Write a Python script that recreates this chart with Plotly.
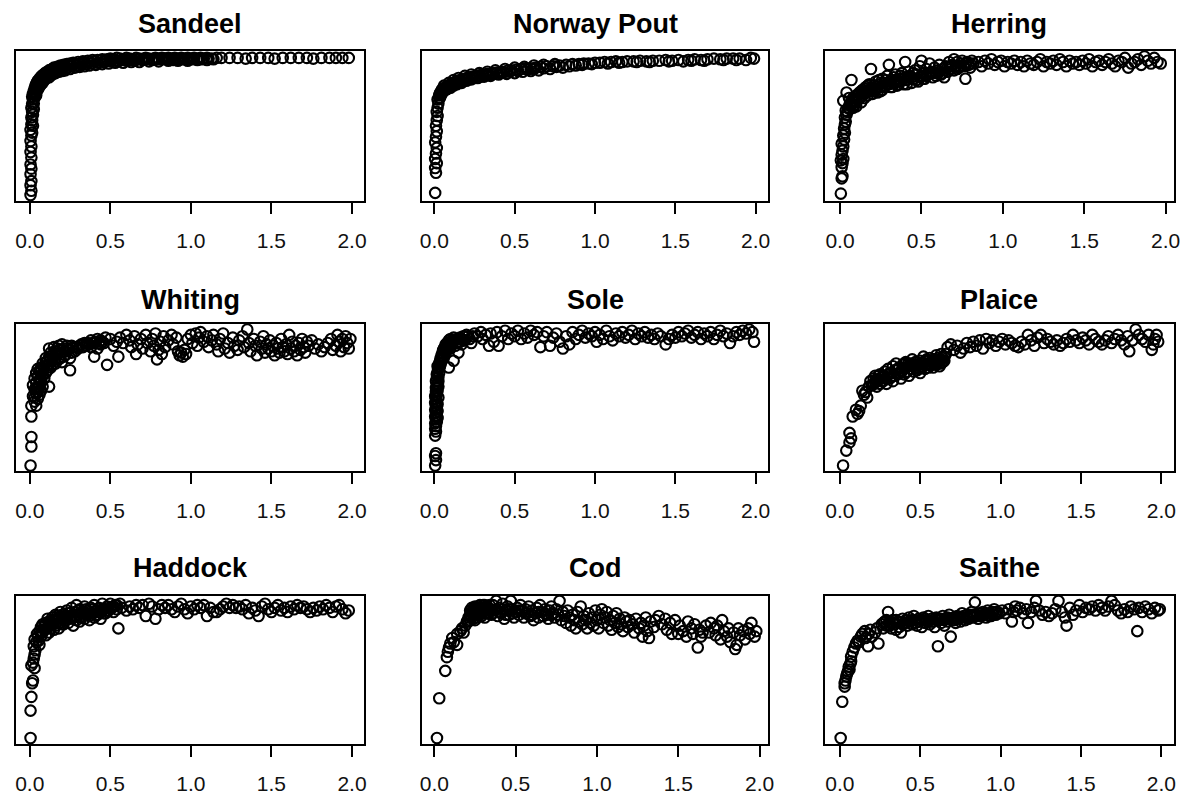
import plotly.graph_objects as go

# ---------------------------------------------------------------------------
# Relative response (0 = lowest, 1 = highest) against fishing mortality F
# ---------------------------------------------------------------------------
species = ["Sandeel", "Norway Pout", "Herring", "Whiting", "Sole", "Plaice",
           "Haddock", "Cod", "Saithe"]

x_tick_vals = [0.0, 0.5, 1.0, 1.5, 2.0]
x_tick_text = ["0.0", "0.5", "1.0", "1.5", "2.0"]

sandeel = [
    (0.005, 0.00), (0.010, 0.03), (0.005, 0.07), (0.010, 0.10), (0.005, 0.15), (0.010, 0.19), (0.005, 0.22), (0.010, 0.27),
    (0.005, 0.31), (0.010, 0.35), (0.005, 0.39), (0.010, 0.43), (0.005, 0.47), (0.010, 0.51), (0.010, 0.56), (0.015, 0.60),
    (0.010, 0.63), (0.015, 0.66), (0.020, 0.69), (0.015, 0.71), (0.020, 0.73), (0.025, 0.75),
    (0.015, 0.45), (0.020, 0.50), (0.015, 0.54), (0.020, 0.58), (0.025, 0.62), (0.025, 0.66), (0.030, 0.70), (0.030, 0.72),
    (0.03, 0.77), (0.035, 0.79), (0.04, 0.80), (0.045, 0.815), (0.05, 0.825), (0.06, 0.84), (0.07, 0.855), (0.08, 0.865),
    (0.09, 0.875), (0.10, 0.885), (0.11, 0.89), (0.12, 0.90), (0.13, 0.905), (0.14, 0.91), (0.15, 0.92), (0.17, 0.925),
    (0.19, 0.935), (0.21, 0.94), (0.23, 0.945), (0.25, 0.95), (0.27, 0.955), (0.30, 0.96), (0.33, 0.965), (0.36, 0.97),
    (0.39, 0.975), (0.42, 0.975), (0.45, 0.98), (0.48, 0.98),
    (0.03, 0.74), (0.04, 0.77), (0.05, 0.79), (0.06, 0.81), (0.07, 0.825), (0.08, 0.835), (0.10, 0.855), (0.12, 0.87),
    (0.14, 0.885), (0.16, 0.895), (0.18, 0.905), (0.20, 0.91), (0.23, 0.92), (0.26, 0.93), (0.29, 0.935), (0.32, 0.94),
    (0.35, 0.945), (0.38, 0.95), (0.42, 0.955), (0.46, 0.96), (0.50, 0.965), (0.55, 0.965), (0.60, 0.97), (0.65, 0.97),
    (0.70, 0.975), (0.76, 0.975), (0.82, 0.98), (0.90, 0.98),
    (0.04, 0.72), (0.05, 0.76), (0.06, 0.78), (0.07, 0.80), (0.08, 0.81), (0.09, 0.83), (0.10, 0.84), (0.12, 0.85),
    (0.14, 0.87), (0.16, 0.88), (0.18, 0.89), (0.20, 0.895), (0.22, 0.90), (0.25, 0.91), (0.28, 0.92), (0.31, 0.925),
    (0.34, 0.93), (0.37, 0.935), (0.41, 0.94), (0.45, 0.945), (0.49, 0.95), (0.53, 0.955), (0.58, 0.955), (0.63, 0.96),
    (0.68, 0.96), (0.74, 0.965), (0.80, 0.965), (0.86, 0.97), (0.92, 0.97), (0.98, 0.97), (1.04, 0.975), (1.10, 0.975),
    (0.035, 0.76), (0.045, 0.79), (0.055, 0.81), (0.065, 0.83), (0.075, 0.845), (0.085, 0.855), (0.095, 0.865), (0.105, 0.875),
    (0.115, 0.88), (0.125, 0.89), (0.135, 0.895), (0.145, 0.90), (0.155, 0.905), (0.165, 0.915), (0.175, 0.92), (0.185, 0.925),
    (0.195, 0.93), (0.215, 0.93), (0.235, 0.935), (0.255, 0.94), (0.275, 0.945), (0.31, 0.95), (0.34, 0.955), (0.37, 0.96),
    (0.40, 0.965), (0.44, 0.97), (0.47, 0.97), (0.51, 0.975), (0.53, 0.97), (0.57, 0.975), (0.61, 0.98), (0.63, 0.975),
    (0.67, 0.98), (0.71, 0.985), (0.73, 0.98), (0.77, 0.985), (0.79, 0.98), (0.83, 0.985), (0.85, 0.98), (0.87, 0.98),
    (0.89, 0.975), (0.93, 0.98), (0.95, 0.98), (0.97, 0.98), (0.99, 0.98), (1.01, 0.98), (1.05, 0.98), (1.07, 0.98),
    (1.11, 0.985), (1.14, 0.98),
    (0.50, 0.985), (0.52, 0.98), (0.54, 0.99), (0.56, 0.985), (0.58, 0.98), (0.60, 0.99), (0.62, 0.985), (0.64, 0.98),
    (0.66, 0.99), (0.68, 0.985), (0.70, 0.98), (0.72, 0.99), (0.74, 0.985), (0.76, 0.98), (0.78, 0.99), (0.80, 0.985),
    (0.82, 0.99), (0.84, 0.985), (0.86, 0.99), (0.88, 0.985), (0.90, 0.99), (0.92, 0.985), (0.94, 0.99), (0.96, 0.985),
    (0.98, 0.99), (1.00, 0.985), (1.02, 0.99), (1.04, 0.985), (1.06, 0.99), (1.08, 0.985), (1.10, 0.99), (1.13, 0.985),
    (1.16, 0.99), (1.19, 0.99), (1.24, 0.99), (1.29, 0.99), (1.34, 0.985), (1.38, 0.99), (1.43, 0.99), (1.48, 0.99),
    (1.52, 0.985), (1.57, 0.99), (1.62, 0.99), (1.67, 0.99), (1.72, 0.99), (1.76, 0.985), (1.81, 0.99), (1.86, 0.99),
    (1.90, 0.99), (1.94, 0.99), (1.98, 0.99),
]

norway_pout = [
    (0.005, 0.015), (0.010, 0.16), (0.005, 0.195), (0.015, 0.23), (0.005, 0.26), (0.010, 0.30), (0.015, 0.34), (0.005, 0.38),
    (0.010, 0.42), (0.015, 0.46), (0.010, 0.50), (0.015, 0.54), (0.020, 0.57), (0.015, 0.60), (0.020, 0.63), (0.025, 0.66),
    (0.020, 0.69), (0.030, 0.70),
    (0.03, 0.72), (0.035, 0.735), (0.04, 0.745), (0.045, 0.755), (0.05, 0.765), (0.06, 0.77), (0.07, 0.78), (0.08, 0.785),
    (0.09, 0.79), (0.10, 0.80), (0.11, 0.805), (0.12, 0.81), (0.13, 0.815), (0.14, 0.82), (0.15, 0.825), (0.16, 0.83),
    (0.18, 0.835), (0.20, 0.845), (0.22, 0.85), (0.24, 0.855), (0.26, 0.86), (0.28, 0.865), (0.30, 0.87), (0.33, 0.875),
    (0.36, 0.88), (0.39, 0.885), (0.42, 0.89), (0.45, 0.895), (0.48, 0.90), (0.51, 0.905), (0.54, 0.91), (0.57, 0.915),
    (0.60, 0.915), (0.63, 0.92), (0.66, 0.925), (0.70, 0.93), (0.74, 0.93), (0.78, 0.935), (0.82, 0.94), (0.86, 0.945),
    (0.04, 0.72), (0.05, 0.74), (0.06, 0.75), (0.08, 0.765), (0.10, 0.775), (0.12, 0.79), (0.14, 0.80), (0.17, 0.81),
    (0.20, 0.825), (0.23, 0.835), (0.27, 0.845), (0.31, 0.855), (0.35, 0.86), (0.40, 0.87), (0.45, 0.875), (0.50, 0.88),
    (0.55, 0.89), (0.60, 0.895), (0.65, 0.90), (0.72, 0.91), (0.80, 0.92),
    (0.06, 0.79), (0.09, 0.81), (0.12, 0.83), (0.15, 0.845), (0.19, 0.86), (0.23, 0.87), (0.28, 0.88), (0.33, 0.89),
    (0.38, 0.90), (0.44, 0.91), (0.50, 0.92), (0.56, 0.925), (0.62, 0.935), (0.68, 0.94), (0.75, 0.945),
    (0.035, 0.70), (0.045, 0.73), (0.055, 0.75), (0.065, 0.76), (0.075, 0.77), (0.085, 0.775), (0.095, 0.785), (0.105, 0.79),
    (0.115, 0.795), (0.125, 0.80), (0.135, 0.805), (0.145, 0.81), (0.155, 0.815), (0.17, 0.82), (0.19, 0.83), (0.21, 0.835),
    (0.25, 0.845), (0.29, 0.855), (0.32, 0.865), (0.34, 0.87), (0.37, 0.875), (0.41, 0.88), (0.43, 0.885), (0.47, 0.89),
    (0.52, 0.895), (0.58, 0.905), (0.62, 0.91), (0.68, 0.915), (0.76, 0.925), (0.84, 0.93), (0.88, 0.935), (0.92, 0.94),
    (0.98, 0.945), (1.08, 0.95), (1.15, 0.955), (1.26, 0.96), (1.34, 0.96), (1.46, 0.965), (1.60, 0.97), (1.68, 0.97),
    (1.80, 0.975), (1.88, 0.975),
    (0.90, 0.945), (0.93, 0.95), (0.96, 0.95), (1.00, 0.955), (1.03, 0.955), (1.06, 0.96), (1.10, 0.96), (1.13, 0.965),
    (1.17, 0.96), (1.20, 0.965), (1.24, 0.965), (1.28, 0.97), (1.32, 0.965), (1.36, 0.97), (1.40, 0.97), (1.44, 0.975),
    (1.48, 0.97), (1.52, 0.975), (1.55, 0.965), (1.58, 0.975), (1.62, 0.98), (1.66, 0.975), (1.70, 0.98), (1.74, 0.985),
    (1.78, 0.98), (1.82, 0.985), (1.86, 0.985), (1.90, 0.985), (1.94, 0.975), (1.97, 0.99), (1.99, 0.985),
]

herring = [
    (0.005, 0.01), (0.010, 0.12), (0.015, 0.135), (0.010, 0.20), (0.015, 0.23), (0.005, 0.25), (0.020, 0.26), (0.010, 0.29),
    (0.015, 0.32), (0.020, 0.35), (0.010, 0.37), (0.025, 0.40), (0.020, 0.43), (0.030, 0.45), (0.025, 0.48), (0.030, 0.51),
    (0.035, 0.53), (0.030, 0.56), (0.040, 0.58), (0.035, 0.61), (0.045, 0.60), (0.050, 0.63), (0.020, 0.68), (0.040, 0.74),
    (0.060, 0.66), (0.055, 0.70), (0.070, 0.83), (0.065, 0.64), (0.075, 0.68),
    (0.08, 0.70), (0.09, 0.65), (0.10, 0.72), (0.10, 0.67), (0.11, 0.69), (0.12, 0.74), (0.12, 0.70), (0.13, 0.67),
    (0.14, 0.76), (0.14, 0.72), (0.15, 0.70), (0.16, 0.78), (0.16, 0.74), (0.17, 0.72), (0.18, 0.80), (0.18, 0.75),
    (0.19, 0.91), (0.20, 0.77), (0.20, 0.73), (0.21, 0.79), (0.22, 0.82), (0.22, 0.76), (0.23, 0.74), (0.24, 0.80),
    (0.25, 0.78), (0.26, 0.84), (0.26, 0.76), (0.27, 0.81), (0.28, 0.79), (0.29, 0.86), (0.30, 0.80), (0.30, 0.94),
    (0.31, 0.78), (0.32, 0.83), (0.33, 0.81), (0.34, 0.87), (0.35, 0.79), (0.36, 0.84), (0.37, 0.82), (0.38, 0.88),
    (0.39, 0.80), (0.40, 0.85), (0.40, 0.96), (0.41, 0.83), (0.42, 0.89), (0.43, 0.86), (0.44, 0.81), (0.45, 0.84),
    (0.46, 0.90), (0.47, 0.87), (0.48, 0.82), (0.49, 0.93), (0.50, 0.86), (0.50, 0.97), (0.51, 0.88), (0.52, 0.84),
    (0.53, 0.91), (0.54, 0.87), (0.55, 0.95), (0.56, 0.89), (0.57, 0.85), (0.58, 0.92), (0.59, 0.88), (0.60, 0.90),
    (0.61, 0.94), (0.62, 0.87), (0.63, 0.91), (0.64, 0.85), (0.65, 0.93), (0.66, 0.89), (0.67, 0.96), (0.68, 0.91),
    (0.69, 0.94), (0.70, 0.98), (0.70, 0.90), (0.71, 0.93), (0.72, 0.96), (0.73, 0.92), (0.74, 0.95), (0.75, 0.97),
    (0.76, 0.93), (0.77, 0.84), (0.78, 0.96), (0.79, 0.94), (0.80, 0.92), (0.81, 0.97), (0.82, 0.95),
    (0.06, 0.62), (0.07, 0.65), (0.08, 0.63), (0.09, 0.68), (0.10, 0.64), (0.11, 0.72), (0.13, 0.71), (0.13, 0.75),
    (0.15, 0.74), (0.15, 0.77), (0.17, 0.75), (0.17, 0.79), (0.19, 0.77), (0.21, 0.75), (0.23, 0.78), (0.24, 0.83),
    (0.25, 0.75), (0.27, 0.78), (0.28, 0.83), (0.29, 0.80), (0.31, 0.82), (0.32, 0.78), (0.33, 0.85), (0.35, 0.82),
    (0.36, 0.80), (0.37, 0.86), (0.39, 0.84), (0.41, 0.80), (0.42, 0.85), (0.44, 0.85), (0.45, 0.88), (0.47, 0.83),
    (0.49, 0.85), (0.51, 0.84), (0.53, 0.86), (0.55, 0.88), (0.57, 0.88), (0.59, 0.86), (0.61, 0.89), (0.63, 0.88),
    (0.66, 0.92), (0.68, 0.93), (0.72, 0.91), (0.74, 0.93), (0.77, 0.95), (0.80, 0.95),
    (0.85, 0.96), (0.87, 0.93), (0.89, 0.97), (0.91, 0.95), (0.93, 0.98), (0.95, 0.94), (0.97, 0.96), (0.99, 0.97),
    (1.01, 0.93), (1.03, 0.96), (1.05, 0.95), (1.07, 0.97), (1.09, 0.94), (1.11, 0.96), (1.13, 0.93), (1.15, 0.97),
    (1.17, 0.95), (1.19, 0.94), (1.21, 0.96), (1.23, 0.98), (1.25, 0.93), (1.27, 0.96), (1.29, 0.95), (1.31, 0.97),
    (1.33, 0.94), (1.35, 0.98), (1.37, 0.96), (1.39, 0.93), (1.41, 0.97), (1.43, 0.95), (1.45, 0.96), (1.47, 0.94),
    (1.49, 0.97), (1.51, 0.95), (1.53, 0.98), (1.55, 0.93), (1.57, 0.96), (1.59, 0.97), (1.61, 0.94), (1.63, 0.96),
    (1.65, 0.98), (1.67, 0.95), (1.69, 0.93), (1.71, 0.97), (1.73, 0.96), (1.75, 0.99), (1.77, 0.92), (1.79, 0.95),
    (1.81, 0.96), (1.83, 0.98), (1.85, 0.94), (1.87, 1.00), (1.89, 0.97), (1.91, 0.95), (1.93, 0.99), (1.95, 0.96),
    (1.97, 0.95),
]

whiting = [
    (0.005, 0.00), (0.010, 0.14), (0.010, 0.21), (0.010, 0.36), (0.010, 0.44), (0.040, 0.44),
    (0.03, 0.47), (0.05, 0.49), (0.02, 0.51), (0.04, 0.53), (0.06, 0.52), (0.03, 0.56), (0.05, 0.57), (0.07, 0.55),
    (0.02, 0.59), (0.04, 0.61), (0.06, 0.60), (0.08, 0.58), (0.12, 0.58), (0.03, 0.64), (0.05, 0.65), (0.07, 0.63),
    (0.09, 0.64), (0.04, 0.68), (0.06, 0.69), (0.08, 0.67), (0.10, 0.68), (0.05, 0.71), (0.07, 0.72), (0.09, 0.71),
    (0.11, 0.70), (0.13, 0.72), (0.08, 0.75), (0.10, 0.76), (0.12, 0.74), (0.14, 0.77), (0.16, 0.75), (0.10, 0.79),
    (0.12, 0.80), (0.15, 0.80), (0.18, 0.78), (0.20, 0.76), (0.25, 0.70), (0.13, 0.83), (0.16, 0.84), (0.19, 0.83),
    (0.22, 0.81), (0.25, 0.79), (0.12, 0.86), (0.15, 0.87), (0.18, 0.88), (0.21, 0.86), (0.24, 0.85), (0.28, 0.84),
    (0.20, 0.89), (0.23, 0.88), (0.27, 0.87), (0.30, 0.86), (0.32, 0.89), (0.35, 0.88), (0.38, 0.87), (0.40, 0.80),
    (0.42, 0.86), (0.36, 0.90), (0.40, 0.90), (0.44, 0.89), (0.38, 0.92), (0.42, 0.93), (0.45, 0.91), (0.48, 0.74),
    (0.47, 0.94),
    (0.03, 0.50), (0.05, 0.54), (0.04, 0.57), (0.06, 0.58), (0.07, 0.61), (0.06, 0.63), (0.08, 0.66), (0.07, 0.69),
    (0.09, 0.73), (0.11, 0.74), (0.11, 0.77), (0.13, 0.78), (0.14, 0.81), (0.17, 0.82), (0.17, 0.86), (0.19, 0.85),
    (0.22, 0.84), (0.23, 0.86), (0.26, 0.83), (0.26, 0.88), (0.29, 0.87), (0.31, 0.88), (0.33, 0.87), (0.34, 0.90),
    (0.37, 0.89), (0.39, 0.90), (0.41, 0.91), (0.43, 0.90), (0.44, 0.92), (0.46, 0.90), (0.14, 0.74), (0.16, 0.79),
    (0.21, 0.80), (0.19, 0.79),
    (0.50, 0.93), (0.52, 0.88), (0.54, 0.91), (0.55, 0.80), (0.56, 0.94), (0.58, 0.90), (0.60, 0.96), (0.62, 0.92),
    (0.63, 0.87), (0.65, 0.95), (0.66, 0.82), (0.67, 0.89), (0.69, 0.93), (0.70, 0.86), (0.72, 0.96), (0.73, 0.90),
    (0.75, 0.84), (0.76, 0.93), (0.77, 0.88), (0.78, 0.97), (0.79, 0.78), (0.80, 0.85), (0.81, 0.91), (0.82, 0.82),
    (0.83, 0.95), (0.84, 0.87), (0.86, 0.92), (0.88, 0.96), (0.89, 0.89), (0.91, 0.94), (0.92, 0.84), (0.93, 0.81),
    (0.94, 0.83), (0.95, 0.80), (0.96, 0.85), (0.97, 0.82), (0.98, 0.93), (1.00, 0.96), (1.01, 0.90), (1.03, 0.97),
    (1.04, 0.88), (1.05, 0.94), (1.06, 0.98), (1.08, 0.91), (1.10, 0.95), (1.11, 0.87), (1.13, 0.92), (1.14, 0.96),
    (1.16, 0.89), (1.17, 0.84), (1.18, 0.93), (1.20, 0.97), (1.21, 0.86), (1.23, 0.90), (1.24, 0.83), (1.26, 0.94),
    (1.27, 0.88), (1.29, 0.85), (1.30, 0.92), (1.32, 0.95), (1.33, 0.87), (1.35, 1.00), (1.36, 0.90), (1.37, 0.84),
    (1.39, 0.93), (1.40, 0.88), (1.41, 0.81), (1.43, 0.91), (1.44, 0.86), (1.45, 0.95), (1.46, 0.83), (1.47, 0.89),
    (1.48, 0.86), (1.49, 0.92), (1.50, 0.84), (1.51, 0.88), (1.52, 0.81), (1.53, 0.90), (1.54, 0.86), (1.55, 0.83),
    (1.56, 0.93), (1.57, 0.87), (1.58, 0.84), (1.59, 0.89), (1.60, 0.82), (1.61, 0.96), (1.62, 0.86), (1.63, 0.91),
    (1.64, 0.84), (1.65, 0.88), (1.66, 0.81), (1.67, 0.90), (1.68, 0.85), (1.69, 0.93), (1.70, 0.87), (1.71, 0.83),
    (1.72, 0.91), (1.73, 0.88), (1.75, 0.92), (1.77, 0.86), (1.79, 0.89), (1.81, 0.84), (1.83, 0.87), (1.85, 0.90),
    (1.87, 0.93), (1.88, 0.85), (1.90, 0.88), (1.91, 0.96), (1.92, 0.91), (1.93, 0.84), (1.94, 0.93), (1.95, 0.87),
    (1.96, 0.95), (1.97, 0.90), (1.98, 0.86), (1.99, 0.93),
]

sole = [
    (0.005, 0.00), (0.010, 0.04), (0.005, 0.07), (0.010, 0.09), (0.005, 0.22), (0.010, 0.25), (0.005, 0.27),
    (0.010, 0.29), (0.005, 0.31), (0.015, 0.32), (0.010, 0.34), (0.005, 0.36), (0.015, 0.37), (0.010, 0.39), (0.005, 0.41),
    (0.015, 0.42), (0.010, 0.44), (0.005, 0.46), (0.015, 0.47), (0.010, 0.49), (0.005, 0.51), (0.015, 0.52), (0.010, 0.54),
    (0.020, 0.55), (0.010, 0.57), (0.015, 0.59), (0.020, 0.60), (0.010, 0.62), (0.015, 0.64), (0.025, 0.65), (0.015, 0.67),
    (0.020, 0.69), (0.025, 0.71), (0.030, 0.72), (0.020, 0.73),
    (0.020, 0.35), (0.020, 0.40), (0.020, 0.45), (0.025, 0.50), (0.025, 0.58), (0.025, 0.62), (0.030, 0.68), (0.035, 0.73),
    (0.045, 0.77), (0.055, 0.80), (0.065, 0.84), (0.070, 0.89), (0.080, 0.90), (0.090, 0.92), (0.10, 0.93), (0.11, 0.92),
    (0.12, 0.94), (0.13, 0.92), (0.14, 0.90), (0.16, 0.91), (0.17, 0.93), (0.18, 0.92), (0.21, 0.95), (0.24, 0.95),
    (0.030, 0.75), (0.035, 0.77), (0.040, 0.79), (0.040, 0.75), (0.045, 0.81), (0.050, 0.83), (0.050, 0.78), (0.055, 0.85),
    (0.060, 0.80), (0.060, 0.86), (0.065, 0.87), (0.070, 0.83), (0.075, 0.88), (0.080, 0.85), (0.085, 0.89), (0.090, 0.72),
    (0.090, 0.87), (0.095, 0.90), (0.10, 0.86), (0.105, 0.91), (0.11, 0.89), (0.12, 0.77), (0.12, 0.92), (0.13, 0.88),
    (0.14, 0.93), (0.15, 0.83), (0.15, 0.91), (0.16, 0.94), (0.17, 0.89), (0.18, 0.95), (0.19, 0.92), (0.20, 0.96),
    (0.22, 0.93), (0.23, 0.90),
    (0.25, 0.97), (0.27, 0.95), (0.29, 0.98), (0.30, 0.93), (0.32, 0.96), (0.34, 0.88), (0.35, 0.97), (0.37, 0.91),
    (0.39, 0.98), (0.40, 0.88), (0.42, 0.95), (0.44, 0.99), (0.46, 0.93), (0.48, 0.97), (0.50, 0.95), (0.52, 0.99),
    (0.54, 0.93), (0.56, 0.97), (0.58, 0.94), (0.60, 0.99), (0.62, 0.96), (0.64, 0.98), (0.66, 0.87), (0.68, 0.95),
    (0.70, 0.98), (0.72, 0.88), (0.74, 0.94), (0.76, 0.97), (0.78, 0.91), (0.80, 0.86), (0.82, 0.95), (0.84, 0.89),
    (0.86, 0.98), (0.88, 0.93), (0.90, 0.96), (0.92, 0.99), (0.94, 0.94), (0.96, 0.97), (0.98, 0.95), (1.00, 0.98),
    (1.01, 0.91), (1.03, 0.96), (1.05, 0.93), (1.07, 0.99), (1.09, 0.95), (1.11, 0.92), (1.13, 0.97), (1.15, 0.95),
    (1.17, 0.98), (1.19, 0.94), (1.21, 0.96), (1.23, 0.99), (1.25, 0.93), (1.27, 0.97), (1.29, 0.95), (1.31, 0.98),
    (1.33, 0.94), (1.35, 0.96), (1.37, 0.93), (1.39, 0.97), (1.41, 0.95), (1.44, 0.89), (1.46, 0.93), (1.48, 0.96),
    (1.50, 0.94), (1.52, 0.98), (1.54, 0.95), (1.56, 0.97), (1.58, 0.99), (1.60, 0.94), (1.62, 0.96), (1.64, 0.98),
    (1.66, 0.93), (1.68, 0.97), (1.70, 0.95), (1.72, 0.98), (1.74, 0.93), (1.76, 0.96), (1.78, 0.99), (1.80, 0.95),
    (1.82, 0.97), (1.84, 0.90), (1.86, 0.95), (1.88, 0.98), (1.90, 0.96), (1.92, 0.99), (1.94, 0.97), (1.96, 1.00),
    (1.98, 0.98), (1.99, 0.91),
]

plaice = [
    (0.02, 0.00), (0.04, 0.11), (0.06, 0.17), (0.06, 0.24), (0.07, 0.20), (0.08, 0.36), (0.10, 0.41), (0.11, 0.38),
    (0.13, 0.44), (0.12, 0.40), (0.14, 0.55), (0.16, 0.54), (0.15, 0.52), (0.18, 0.58), (0.17, 0.50),
    (0.19, 0.62), (0.20, 0.59), (0.21, 0.64), (0.22, 0.61), (0.22, 0.66), (0.23, 0.58), (0.24, 0.63), (0.25, 0.67),
    (0.25, 0.60), (0.26, 0.65), (0.27, 0.62), (0.28, 0.69), (0.28, 0.64), (0.29, 0.60), (0.30, 0.67), (0.30, 0.71),
    (0.31, 0.64), (0.32, 0.68), (0.33, 0.62), (0.33, 0.73), (0.34, 0.66), (0.35, 0.70), (0.35, 0.75), (0.36, 0.67),
    (0.37, 0.72), (0.38, 0.64), (0.38, 0.69), (0.39, 0.74), (0.40, 0.71), (0.40, 0.67), (0.41, 0.76), (0.42, 0.69),
    (0.43, 0.73), (0.43, 0.66), (0.44, 0.71), (0.45, 0.78), (0.45, 0.74), (0.46, 0.69), (0.47, 0.72), (0.48, 0.76),
    (0.48, 0.70), (0.49, 0.74), (0.50, 0.68), (0.50, 0.77), (0.51, 0.72), (0.52, 0.75), (0.52, 0.80), (0.53, 0.71),
    (0.54, 0.74), (0.55, 0.77), (0.55, 0.72), (0.56, 0.79), (0.57, 0.74), (0.58, 0.76), (0.58, 0.72), (0.59, 0.78),
    (0.60, 0.74), (0.60, 0.81), (0.61, 0.76), (0.62, 0.73), (0.62, 0.78), (0.63, 0.75), (0.64, 0.79), (0.65, 0.77),
    (0.63, 0.82),
    (0.21, 0.60), (0.23, 0.63), (0.24, 0.66), (0.26, 0.62), (0.27, 0.66), (0.29, 0.65), (0.31, 0.68), (0.32, 0.65),
    (0.34, 0.70), (0.36, 0.71), (0.37, 0.68), (0.39, 0.70), (0.41, 0.72), (0.42, 0.74), (0.44, 0.75), (0.46, 0.73),
    (0.47, 0.76), (0.49, 0.71), (0.51, 0.75), (0.53, 0.77), (0.54, 0.78), (0.56, 0.75), (0.57, 0.77), (0.59, 0.75),
    (0.61, 0.79), (0.63, 0.78), (0.64, 0.76), (0.65, 0.80), (0.66, 0.82), (0.40, 0.75),
    (0.67, 0.87), (0.69, 0.89), (0.71, 0.85), (0.73, 0.88), (0.75, 0.83), (0.77, 0.86), (0.79, 0.90), (0.81, 0.87),
    (0.83, 0.91), (0.85, 0.88), (0.87, 0.92), (0.89, 0.86), (0.91, 0.93), (0.93, 0.90), (0.95, 0.92), (0.97, 0.88),
    (0.99, 0.91), (1.01, 0.93), (1.03, 0.89), (1.05, 0.92), (1.07, 0.90), (1.09, 0.88), (1.11, 0.87), (1.13, 0.91),
    (1.15, 0.89), (1.17, 0.96), (1.19, 0.92), (1.21, 0.88), (1.23, 0.94), (1.25, 0.96), (1.27, 0.90), (1.29, 0.93),
    (1.31, 0.91), (1.33, 0.89), (1.35, 0.92), (1.37, 0.88), (1.39, 0.90), (1.41, 0.93), (1.43, 0.91), (1.45, 0.96),
    (1.47, 0.92), (1.49, 0.90), (1.51, 0.94), (1.53, 0.92), (1.55, 0.89), (1.57, 0.96), (1.59, 0.93), (1.61, 0.91),
    (1.63, 0.89), (1.65, 0.92), (1.67, 0.95), (1.69, 0.90), (1.71, 0.93), (1.73, 0.96), (1.75, 0.92), (1.77, 0.89),
    (1.79, 0.95), (1.80, 0.84), (1.82, 0.92), (1.84, 1.00), (1.86, 0.96), (1.88, 0.93), (1.90, 0.91), (1.92, 0.96),
    (1.94, 0.85), (1.95, 0.89), (1.96, 0.93), (1.97, 0.96), (1.98, 0.91),
]

haddock = [
    (0.005, 0.00), (0.005, 0.20), (0.010, 0.30), (0.015, 0.40), (0.020, 0.42), (0.010, 0.53), (0.030, 0.51), (0.020, 0.55),
    (0.025, 0.58), (0.030, 0.61), (0.035, 0.64), (0.025, 0.67), (0.040, 0.70), (0.030, 0.72), (0.050, 0.74), (0.060, 0.68),
    (0.045, 0.76), (0.055, 0.71),
    (0.06, 0.78), (0.07, 0.74), (0.07, 0.81), (0.08, 0.77), (0.08, 0.83), (0.09, 0.79), (0.10, 0.75), (0.10, 0.84),
    (0.11, 0.80), (0.11, 0.87), (0.12, 0.82), (0.12, 0.77), (0.13, 0.85), (0.13, 0.80), (0.14, 0.88), (0.14, 0.83),
    (0.15, 0.79), (0.15, 0.86), (0.16, 0.90), (0.16, 0.82), (0.17, 0.85), (0.18, 0.88), (0.18, 0.80), (0.19, 0.92),
    (0.19, 0.84), (0.20, 0.87), (0.21, 0.83), (0.21, 0.90), (0.22, 0.86), (0.23, 0.93), (0.23, 0.89), (0.24, 0.84),
    (0.25, 0.91), (0.25, 0.87), (0.26, 0.95), (0.27, 0.88), (0.27, 0.82), (0.28, 0.92), (0.29, 0.86), (0.29, 0.97),
    (0.30, 0.90), (0.31, 0.85), (0.31, 0.94), (0.32, 0.88), (0.33, 0.92), (0.34, 0.96), (0.34, 0.87), (0.35, 0.90),
    (0.36, 0.93), (0.37, 0.89), (0.37, 0.86), (0.38, 0.95), (0.39, 0.91), (0.40, 0.88), (0.40, 0.97), (0.41, 0.93),
    (0.42, 0.90), (0.43, 0.95), (0.44, 0.92), (0.44, 0.87), (0.45, 0.98), (0.46, 0.94), (0.47, 0.91), (0.48, 0.96),
    (0.49, 0.93), (0.50, 0.98), (0.51, 0.95), (0.52, 0.92), (0.53, 0.97), (0.54, 0.94), (0.55, 0.80), (0.56, 0.98),
    (0.57, 0.95),
    (0.07, 0.77), (0.09, 0.82), (0.10, 0.80), (0.12, 0.85), (0.13, 0.83), (0.14, 0.86), (0.16, 0.86), (0.17, 0.89),
    (0.18, 0.84), (0.20, 0.90), (0.20, 0.83), (0.22, 0.89), (0.24, 0.91), (0.26, 0.89), (0.28, 0.89), (0.30, 0.93),
    (0.32, 0.91), (0.33, 0.89), (0.35, 0.94), (0.36, 0.90), (0.38, 0.91), (0.39, 0.94), (0.41, 0.90), (0.43, 0.92),
    (0.45, 0.94), (0.46, 0.91), (0.48, 0.93), (0.50, 0.95), (0.52, 0.96), (0.54, 0.97),
    (0.60, 0.93), (0.62, 0.96), (0.64, 0.94), (0.66, 0.97), (0.68, 0.95), (0.70, 0.97), (0.72, 0.89), (0.74, 0.98),
    (0.76, 0.96), (0.78, 0.87), (0.80, 0.94), (0.82, 0.97), (0.84, 0.95), (0.86, 0.97), (0.88, 0.94), (0.90, 0.92),
    (0.92, 0.96), (0.94, 0.98), (0.96, 0.94), (0.98, 0.91), (1.00, 0.96), (1.02, 0.94), (1.04, 0.97), (1.06, 0.95),
    (1.08, 0.97), (1.10, 0.89), (1.12, 0.95), (1.14, 0.92), (1.16, 0.92), (1.18, 0.94), (1.20, 0.96), (1.22, 0.98),
    (1.24, 0.95), (1.26, 0.97), (1.28, 0.95), (1.30, 0.96), (1.32, 0.94), (1.34, 0.97), (1.36, 0.91), (1.38, 0.95),
    (1.40, 0.93), (1.42, 0.89), (1.44, 0.96), (1.46, 0.98), (1.48, 0.94), (1.50, 0.92), (1.52, 0.95), (1.54, 0.97),
    (1.56, 0.93), (1.58, 0.95), (1.60, 0.92), (1.62, 0.96), (1.64, 0.94), (1.66, 0.97), (1.68, 0.95), (1.70, 0.96),
    (1.72, 0.94), (1.74, 0.92), (1.76, 0.95), (1.78, 0.93), (1.80, 0.96), (1.82, 0.94), (1.84, 0.97), (1.86, 0.95),
    (1.88, 0.92), (1.90, 0.96), (1.92, 0.97), (1.94, 0.94), (1.96, 0.91), (1.98, 0.93),
]

cod = [
    (0.016, 0.00), (0.03, 0.29), (0.067, 0.49), (0.077, 0.59), (0.083, 0.63), (0.09, 0.66), (0.098, 0.69), (0.14, 0.68),
    (0.11, 0.73), (0.12, 0.70), (0.14, 0.76), (0.16, 0.78), (0.17, 0.80), (0.19, 0.82), (0.18, 0.77), (0.20, 0.85),
    (0.21, 0.88), (0.22, 0.90), (0.22, 0.86), (0.23, 0.92), (0.23, 0.88), (0.24, 0.94), (0.24, 0.90), (0.25, 0.86),
    (0.25, 0.96), (0.26, 0.92), (0.26, 0.88), (0.27, 0.95), (0.27, 0.90), (0.28, 0.97), (0.28, 0.93), (0.29, 0.89),
    (0.29, 0.95), (0.30, 0.92), (0.30, 0.97), (0.31, 0.94), (0.31, 0.88), (0.32, 0.96), (0.33, 0.91), (0.34, 0.94),
    (0.35, 0.90),
    (0.21, 0.85), (0.22, 0.93), (0.23, 0.95), (0.24, 0.87), (0.25, 0.92), (0.26, 0.95), (0.27, 0.93), (0.28, 0.90),
    (0.29, 0.92), (0.30, 0.94), (0.31, 0.97), (0.32, 0.91), (0.33, 0.95), (0.34, 0.97), (0.35, 0.93), (0.36, 0.91),
    (0.38, 0.94), (0.40, 0.92), (0.42, 0.94), (0.44, 0.90), (0.46, 0.94), (0.48, 0.91), (0.52, 0.93), (0.56, 0.91),
    (0.60, 0.90), (0.64, 0.92), (0.68, 0.91), (0.72, 0.90),
    (0.36, 0.97), (0.37, 0.93), (0.38, 1.00), (0.39, 0.89), (0.40, 0.95), (0.41, 0.91), (0.42, 0.98), (0.43, 0.87),
    (0.44, 0.93), (0.45, 0.96), (0.46, 0.90), (0.47, 1.00), (0.48, 0.94), (0.49, 0.88), (0.50, 0.92), (0.51, 0.95),
    (0.52, 0.90), (0.53, 0.97), (0.54, 0.93), (0.55, 0.88), (0.56, 0.94), (0.57, 0.91), (0.58, 0.96), (0.59, 0.89),
    (0.60, 0.93), (0.61, 0.86), (0.62, 0.91), (0.63, 0.95), (0.64, 0.88), (0.65, 0.97), (0.66, 0.92), (0.67, 0.89),
    (0.68, 0.94), (0.69, 0.90), (0.70, 0.87), (0.71, 0.93), (0.72, 0.96), (0.73, 0.91), (0.74, 0.88), (0.75, 0.94),
    (0.76, 0.90), (0.77, 1.00), (0.78, 0.86), (0.79, 0.92), (0.80, 0.89),
    (0.81, 0.84), (0.82, 0.93), (0.83, 0.88), (0.84, 0.82), (0.85, 0.90), (0.86, 0.86), (0.87, 0.80), (0.88, 0.92),
    (0.89, 0.85), (0.90, 0.96), (0.91, 0.83), (0.92, 0.89), (0.93, 0.86), (0.94, 0.80), (0.95, 0.91), (0.96, 0.84),
    (0.97, 0.88), (0.98, 0.82), (0.99, 0.93), (1.00, 0.86), (1.01, 0.80), (1.02, 0.90), (1.03, 0.94), (1.04, 0.84),
    (1.05, 0.88), (1.06, 0.92), (1.07, 0.82), (1.08, 0.86), (1.09, 0.79), (1.10, 0.89), (1.11, 0.84), (1.12, 0.91),
    (1.13, 0.81), (1.14, 0.87), (1.15, 0.83), (1.16, 0.78), (1.17, 0.88), (1.18, 0.85), (1.19, 0.81), (1.20, 0.86),
    (1.22, 0.83), (1.23, 0.77), (1.24, 0.87), (1.26, 0.80), (1.27, 0.84), (1.28, 0.74), (1.29, 0.82), (1.30, 0.88),
    (1.31, 0.78), (1.32, 0.73), (1.33, 0.85), (1.35, 0.81), (1.36, 0.86), (1.38, 0.89), (1.40, 0.83), (1.42, 0.87),
    (1.43, 0.79), (1.45, 0.84), (1.46, 0.76), (1.48, 0.86), (1.50, 0.76), (1.51, 0.82), (1.53, 0.78), (1.55, 0.74),
    (1.56, 0.85), (1.58, 0.80), (1.59, 0.76), (1.60, 0.83), (1.62, 0.66), (1.63, 0.79), (1.64, 0.74), (1.65, 0.77),
    (1.67, 0.82), (1.69, 0.77), (1.70, 0.84), (1.72, 0.80), (1.73, 0.75), (1.74, 0.82), (1.76, 0.72), (1.77, 0.86),
    (1.78, 0.78), (1.80, 0.74), (1.81, 0.80), (1.82, 0.70), (1.84, 0.77), (1.85, 0.65), (1.86, 0.68), (1.87, 0.80),
    (1.88, 0.75), (1.90, 0.78), (1.91, 0.72), (1.93, 0.80), (1.94, 0.76), (1.95, 0.84), (1.97, 0.74), (1.98, 0.78),
]

saithe = [
    (0.005, 0.00), (0.015, 0.265), (0.03, 0.375), (0.03, 0.40), (0.04, 0.45), (0.035, 0.42), (0.05, 0.485), (0.045, 0.47),
    (0.055, 0.52), (0.06, 0.50), (0.07, 0.56), (0.065, 0.54), (0.07, 0.595), (0.08, 0.63), (0.09, 0.66), (0.10, 0.69),
    (0.11, 0.71), (0.12, 0.70), (0.13, 0.74), (0.14, 0.76), (0.155, 0.78), (0.16, 0.73), (0.175, 0.67), (0.18, 0.76),
    (0.19, 0.79), (0.20, 0.74), (0.22, 0.77), (0.24, 0.69), (0.23, 0.80),
    (0.26, 0.83), (0.27, 0.80), (0.28, 0.85), (0.29, 0.82), (0.30, 0.92), (0.31, 0.84), (0.32, 0.80), (0.33, 0.86),
    (0.34, 0.83), (0.35, 0.79), (0.36, 0.85), (0.37, 0.81), (0.38, 0.77), (0.39, 0.87), (0.40, 0.84), (0.41, 0.86),
    (0.42, 0.82), (0.43, 0.88), (0.44, 0.85), (0.45, 0.83), (0.46, 0.89), (0.47, 0.86), (0.48, 0.82), (0.49, 0.87),
    (0.50, 0.85), (0.51, 0.81), (0.52, 0.88), (0.53, 0.84), (0.54, 0.86), (0.55, 0.89), (0.56, 0.83), (0.57, 0.87),
    (0.58, 0.85), (0.59, 0.81), (0.60, 0.88), (0.61, 0.67), (0.62, 0.86), (0.63, 0.84), (0.64, 0.89), (0.65, 0.82),
    (0.66, 0.87), (0.67, 0.85), (0.68, 0.90), (0.69, 0.74), (0.70, 0.86), (0.71, 0.88), (0.72, 0.84), (0.73, 0.89),
    (0.74, 0.87), (0.75, 0.85), (0.76, 0.91), (0.77, 0.88), (0.78, 0.86), (0.79, 0.90), (0.80, 0.87), (0.81, 0.89),
    (0.82, 0.92), (0.83, 0.88), (0.84, 0.99), (0.85, 0.90), (0.86, 0.87), (0.87, 0.91), (0.88, 0.89), (0.89, 0.92),
    (0.90, 0.90), (0.91, 0.88), (0.92, 0.93), (0.93, 0.91), (0.94, 0.89), (0.95, 0.92), (0.96, 0.94), (0.97, 0.90),
    (0.98, 0.92), (0.99, 0.91),
    (0.27, 0.84), (0.29, 0.86), (0.31, 0.82), (0.33, 0.84), (0.35, 0.86), (0.37, 0.84), (0.39, 0.83), (0.41, 0.84),
    (0.43, 0.85), (0.45, 0.86), (0.47, 0.84), (0.49, 0.85), (0.51, 0.86), (0.53, 0.87), (0.55, 0.85), (0.57, 0.85),
    (0.59, 0.87), (0.61, 0.86), (0.63, 0.87), (0.65, 0.86), (0.67, 0.88), (0.69, 0.87), (0.71, 0.86), (0.73, 0.87),
    (0.75, 0.88), (0.77, 0.89), (0.79, 0.88), (0.81, 0.90), (0.83, 0.90), (0.85, 0.89), (0.87, 0.89), (0.89, 0.90),
    (0.91, 0.91), (0.93, 0.89), (0.95, 0.90), (0.97, 0.92),
    (1.01, 0.93), (1.03, 0.91), (1.05, 0.94), (1.07, 0.85), (1.08, 0.92), (1.09, 0.96), (1.10, 0.93), (1.12, 0.95),
    (1.14, 0.91), (1.16, 0.94), (1.17, 0.84), (1.19, 0.92), (1.21, 0.95), (1.22, 1.00), (1.24, 0.93), (1.26, 0.90),
    (1.28, 0.92), (1.30, 0.89), (1.32, 0.91), (1.34, 0.94), (1.36, 1.00), (1.38, 0.92), (1.40, 0.88), (1.41, 0.82),
    (1.43, 0.95), (1.45, 0.90), (1.47, 0.93), (1.49, 0.97), (1.51, 0.92), (1.53, 0.95), (1.55, 0.94), (1.57, 0.96),
    (1.59, 0.93), (1.61, 0.97), (1.63, 0.95), (1.65, 0.93), (1.67, 0.96), (1.69, 1.00), (1.71, 0.97), (1.73, 0.93),
    (1.75, 0.91), (1.77, 0.94), (1.79, 0.92), (1.81, 0.96), (1.83, 0.94), (1.85, 0.78), (1.86, 0.95), (1.88, 0.92),
    (1.90, 0.96), (1.92, 0.94), (1.94, 0.91), (1.96, 0.95), (1.98, 0.93), (1.99, 0.94),
]

series = [sandeel, norway_pout, herring, whiting, sole, plaice, haddock, cod, saithe]

# ---------------------------------------------------------------------------
# Page geometry (pixels) for the 3 x 3 grid of framed panels
# ---------------------------------------------------------------------------
W, H = 1196, 796
col_px = [(14.0, 365.0), (422.7, 772.3), (829.3, 1180.5)]
row_px = [(51.0, 200.5), (324.0, 471.0), (595.5, 743.5)]
title_y_px = [24.0, 300.5, 568.0]
x_ranges = [
    [-0.086, 2.076], [-0.080, 2.080], [-0.092, 2.049],
    [-0.086, 2.076], [-0.080, 2.080], [-0.092, 2.076],
    [-0.086, 2.076], [-0.079, 2.055], [-0.092, 2.076],
]
y_range = [-0.04, 1.04]

FONT = "Liberation Sans, Arial, Helvetica, sans-serif"

fig = go.Figure()
annotations = []
for i, (name, pts) in enumerate(zip(species, series)):
    r, c = divmod(i, 3)
    k = "" if i == 0 else str(i + 1)
    xs = [p[0] for p in pts]
    ys = [p[1] for p in pts]
    fig.add_trace(go.Scatter(
        x=xs, y=ys, mode="markers", name=name, showlegend=False,
        xaxis="x" + k, yaxis="y" + k, cliponaxis=False,
        marker=dict(symbol="circle-open", size=10.5, color="black",
                    line=dict(width=2.1, color="black")),
        hoverinfo="skip",
    ))
    left, right = col_px[c]
    top, bottom = row_px[r]
    fig.layout["xaxis" + k] = dict(
        domain=[left / W, right / W], range=x_ranges[i], anchor="y" + k,
        showline=True, mirror=True, linewidth=2, linecolor="black",
        showgrid=False, zeroline=False,
        ticks="outside", ticklen=11, tickwidth=2, tickcolor="black",
        tickvals=x_tick_vals, ticktext=x_tick_text, ticklabelstandoff=9,
        tickfont=dict(family=FONT, size=21, color="#111111"),
        fixedrange=True,
    )
    fig.layout["yaxis" + k] = dict(
        domain=[1 - bottom / H, 1 - top / H], range=y_range, anchor="x" + k,
        showline=True, mirror=True, linewidth=2, linecolor="black",
        showgrid=False, zeroline=False, ticks="", showticklabels=False,
        fixedrange=True,
    )
    annotations.append(dict(
        text="<b>" + name + "</b>", xref="paper", yref="paper",
        x=(left + right) / 2 / W, y=1 - title_y_px[r] / H,
        xanchor="center", yanchor="middle", showarrow=False,
        font=dict(family=FONT, size=27, color="black"),
    ))

fig.update_layout(
    width=W, height=H,
    margin=dict(l=0, r=0, t=0, b=0),
    paper_bgcolor="white", plot_bgcolor="white",
    annotations=annotations,
)

fig.write_html("out.html")
